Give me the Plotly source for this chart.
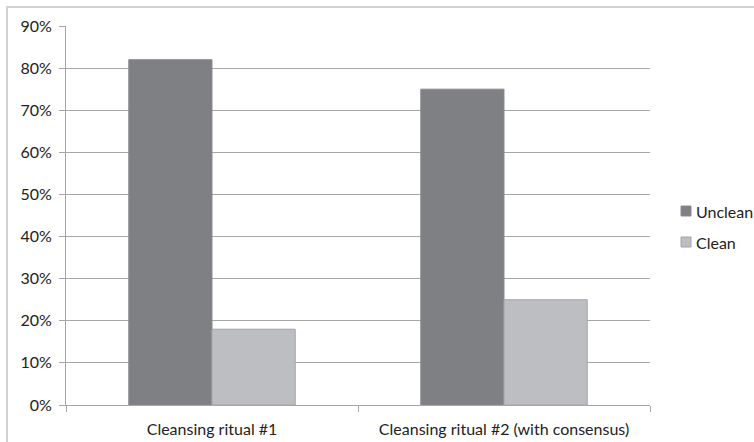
import plotly.graph_objects as go

categories = ["Cleansing ritual #1", "Cleansing ritual #2 (with consensus)"]
series_names = ["Unclean", "Clean"]
unclean = [0.82, 0.75]
clean = [0.18, 0.25]
y_ticks = [0, 0.1, 0.2, 0.3, 0.4, 0.5, 0.6, 0.7, 0.8, 0.9]
y_labels = ["0%", "10%", "20%", "30%", "40%", "50%", "60%", "70%", "80%", "90%"]

FONT = "Lato, 'Open Sans', sans-serif"
TEXT = "#222222"
FILLS = ["#7f8083", "#bdbec2"]
EDGES = ["#8a8b8e", "#a3a4a7"]
W, H = 754, 442
L, R, T, B = 66, 104, 26, 37
pw, ph = W - L - R, H - T - B


def px_x(px):
    return (px - L) / pw


def px_y(py):
    return (H - B - py) / ph


fig = go.Figure()
for name, vals, fill, edge in zip(series_names, [unclean, clean], FILLS, EDGES):
    fig.add_trace(go.Bar(
        name=name, x=categories, y=vals,
        marker=dict(color=fill, line=dict(color=edge, width=1)),
    ))

# outer chart frame (top and left edges visible)
fig.add_shape(
    type="rect", xref="paper", yref="paper", layer="below",
    x0=px_x(7), x1=px_x(W + 20), y0=px_y(H + 20), y1=px_y(7),
    line=dict(color="#d2d2d2", width=2), fillcolor="white",
)

# legend drawn beside the plot: swatch + label per series
for i, (name, fill, edge) in enumerate(zip(series_names, FILLS, EDGES)):
    cy = 211 + i * 31
    fig.add_shape(
        type="rect", xref="paper", yref="paper",
        x0=px_x(681), x1=px_x(691), y0=px_y(cy + 5), y1=px_y(cy - 5),
        fillcolor=fill, line=dict(color=edge, width=1),
    )
    fig.add_annotation(
        xref="paper", yref="paper", x=px_x(694), y=px_y(cy),
        xanchor="left", yanchor="middle", showarrow=False,
        text=name, font=dict(family=FONT, size=16, color=TEXT),
    )

fig.update_layout(
    width=W, height=H,
    margin=dict(l=L, r=R, t=T, b=B, autoexpand=False),
    paper_bgcolor="white",
    plot_bgcolor="#e8e8ea",
    barmode="group",
    bargap=0.43,
    bargroupgap=0,
    showlegend=False,
    font=dict(family=FONT, size=16, color=TEXT),
    xaxis=dict(
        showgrid=False,
        showline=True, linecolor="#a6a6a6", linewidth=1,
        ticks="outside", tickson="boundaries", ticklen=6, tickcolor="#a6a6a6",
        ticklabelstandoff=10,
        tickfont=dict(family=FONT, size=16, color=TEXT),
    ),
    yaxis=dict(
        range=[0, 0.9],
        tickvals=y_ticks, ticktext=y_labels,
        showgrid=True, gridcolor="#a6a6a6", gridwidth=1,
        showline=True, linecolor="#a6a6a6", linewidth=1,
        ticks="outside", ticklen=6, tickcolor="#a6a6a6",
        ticklabelstandoff=4,
        tickfont=dict(family=FONT, size=16, color=TEXT),
        zeroline=False,
    ),
)

fig.write_html("out.html")
